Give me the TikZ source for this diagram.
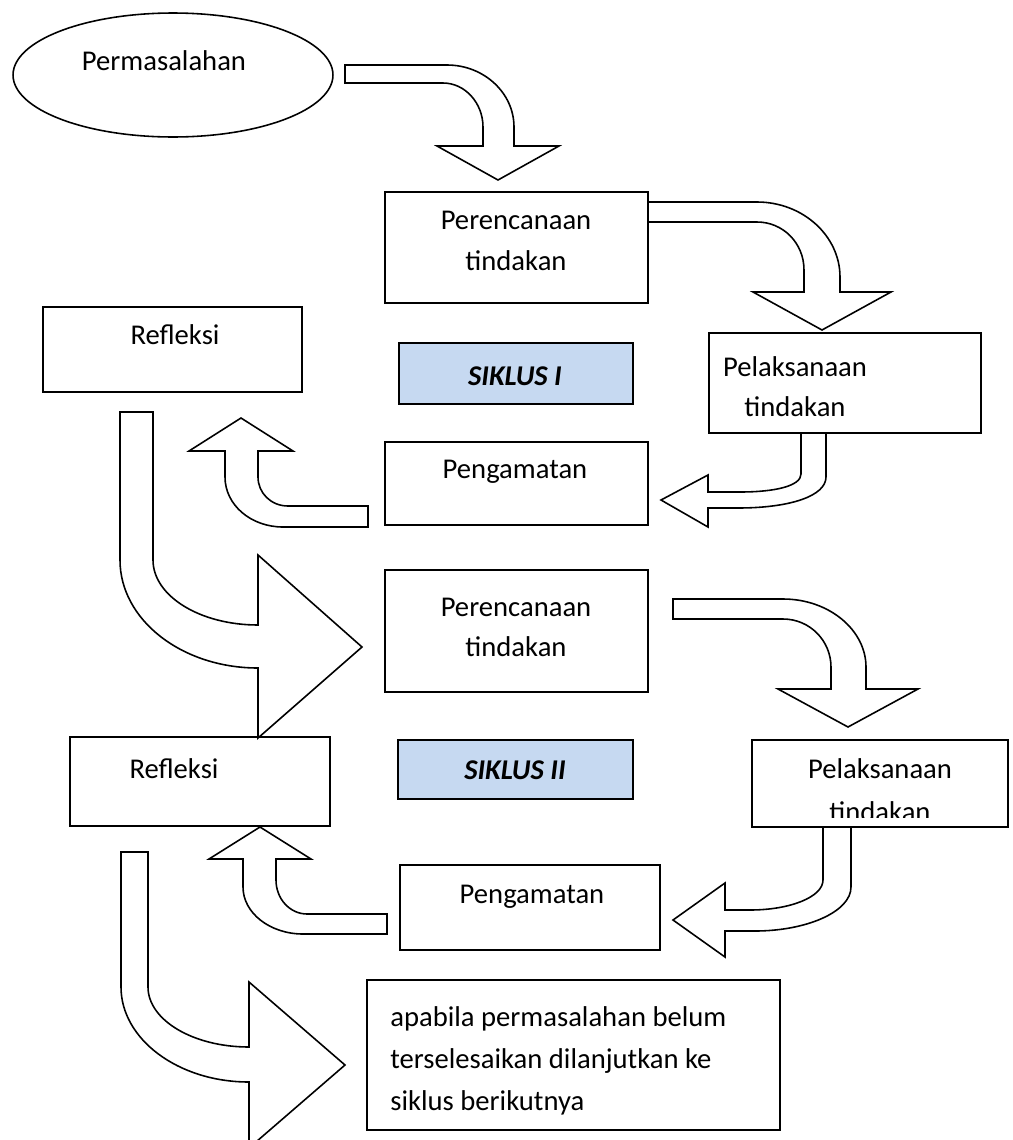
\documentclass[tikz,border=0pt]{standalone}
\usepackage{fontspec}
\setmainfont{Carlito}
\usetikzlibrary{fit,shapes.geometric}
\definecolor{siklus}{HTML}{C6D9F1}
\begin{document}
\begin{tikzpicture}[x=0.02cm,y=-0.02cm,
  box/.style={draw=black,line width=0.9pt,inner sep=0pt,fill=white},
  sbox/.style={box,fill=siklus},
  txt/.style={font=\fontsize{16.3}{20}\selectfont,inner sep=0pt,anchor=base},
  btxt/.style={txt,font=\fontsize{16.3}{20}\selectfont\bfseries\itshape},
  blockarrow/.style={draw=black,line width=0.9pt,fill=white,line join=miter}]
\useasboundingbox (0,0) rectangle (1012,1140);
\clip (0,0) rectangle (1012,1140);

% ---------- boxes ----------
\node[draw=black,line width=0.9pt,ellipse,inner sep=0pt,minimum width=6.4cm,minimum height=2.48cm] (perm) at (173,75) {};
\node[txt] (tperm) at (164,70) {Permasalahan};

\node[box,fit={(385,192)(648,303)}] (ren1) {};
\node[txt] (tren1a) at (516,229) {Perencanaan};
\node[txt] (tren1b) at (516,270) {tindakan};

\node[box,fit={(43,307)(302,392)}] (ref1) {};
\node[txt] (tref1) at (175,344) {Refleksi};

\node[sbox,fit={(399,343)(633,404)}] (sik1) {};
\node[btxt] (tsik1) at (515,385) {SIKLUS I};

\node[box,fit={(709,333)(981,433)}] (pel1) {};
\node[txt] (tpel1a) at (795,376) {Pelaksanaan};
\node[txt] (tpel1b) at (795,416) {tindakan};

\node[box,fit={(385,442)(648,525)}] (pen1) {};
\node[txt] (tpen1) at (515,478) {Pengamatan};

\node[box,fit={(385,570)(648,692)}] (ren2) {};
\node[txt] (tren2a) at (516,616) {Perencanaan};
\node[txt] (tren2b) at (516,656) {tindakan};

\node[sbox,fit={(398,740)(633,799)}] (sik2) {};
\node[btxt] (tsik2) at (515,779) {SIKLUS II};

\node[box,fit={(70,737)(330,826)}] (ref2) {};
\node[txt] (tref2) at (174,778) {Refleksi};

\node[box,fit={(752,740)(1008,827)}] (pel2) {};
\begin{scope}
\clip (752,740) rectangle (1008,817);
\node[txt] (tpel2a) at (880,778) {Pelaksanaan};
\node[txt] (tpel2b) at (880,821) {tindakan};
\end{scope}

\node[box,fit={(400,865)(660,950)}] (pen2) {};
\node[txt] (tpen2) at (532,903) {Pengamatan};

\node[box,fit={(367,980)(780,1130)}] (fin) {};
\node[txt,anchor=base west] (tfina) at (390,1026) {apabila permasalahan belum};
\node[txt,anchor=base west] (tfinb) at (390,1068) {terselesaikan dilanjutkan ke};
\node[txt,anchor=base west] (tfinc) at (390,1110) {siklus berikutnya};

% ---------- block arrows ----------
% 1: Permasalahan -> Perencanaan
\draw[blockarrow] (345,65) -- (447,65) .. controls (484,65) and (514,93) .. (514,127)
  -- (514,146) -- (559,146) -- (498,180) -- (437,146) -- (483,146) -- (483,127)
  .. controls (483,103) and (465,83) .. (443,83) -- (345,83) -- cycle;
% 2: Perencanaan -> Pelaksanaan
\draw[blockarrow] (648,202) -- (757,202) .. controls (803,202) and (840,236) .. (840,277)
  -- (840,292) -- (891,292) -- (822,330) -- (753,292) -- (804,292) -- (804,270)
  .. controls (804,243) and (783,222) .. (757,222) -- (648,222) -- cycle;
% 3: Pelaksanaan -> Pengamatan
\draw[blockarrow] (826,433) -- (826,477) .. controls (826,496) and (790,508) .. (738,508)
  -- (708,508) -- (708,527) -- (661,500) -- (708,475) -- (708,492) -- (740,492)
  .. controls (775,492) and (801,486) .. (801,474) -- (801,433) -- cycle;
% 4: Pengamatan -> Refleksi
\draw[blockarrow] (368,506) -- (288,506) .. controls (271,506) and (258,493) .. (258,477)
  -- (258,451) -- (293,451) -- (241,418) -- (189,451) -- (225,451) -- (225,477)
  .. controls (225,505) and (251,527) .. (283,527) -- (368,527) -- cycle;
% 5: Refleksi -> Perencanaan (siklus II)
\draw[blockarrow] (120,412) -- (153,412) -- (153,560) .. controls (153,596) and (200,625) .. (258,625)
  -- (258,555) -- (362,647) -- (258,738) -- (258,668)
  .. controls (182,668) and (120,620) .. (120,560) -- cycle;
% 6: Perencanaan -> Pelaksanaan (siklus II)
\draw[blockarrow] (673,599) -- (783,599) .. controls (829,599) and (866,630) .. (866,667)
  -- (866,689) -- (918,689) -- (848,727) -- (778,689) -- (831,689) -- (831,667)
  .. controls (831,641) and (810,619) .. (783,619) -- (673,619) -- cycle;
% 7: Pelaksanaan -> Pengamatan (siklus II)
\draw[blockarrow] (851,827) -- (851,887) .. controls (851,912) and (806,931) .. (755,931)
  -- (725,931) -- (725,957) -- (673,920) -- (725,883) -- (725,910) -- (750,910)
  .. controls (790,910) and (823,897) .. (823,880) -- (823,827) -- cycle;
% 8: Pengamatan -> Refleksi (siklus II)
\draw[blockarrow] (387,914) -- (307,914) .. controls (290,914) and (276,899) .. (276,880)
  -- (276,859) -- (311,859) -- (260,827) -- (209,859) -- (243,859) -- (243,887)
  .. controls (243,913) and (270,934) .. (303,934) -- (387,934) -- cycle;
% 9: Refleksi -> kesimpulan
\draw[blockarrow] (121,852) -- (148,852) -- (148,987) .. controls (148,1020) and (193,1047) .. (249,1047)
  -- (249,982) -- (345,1065) -- (249,1148) -- (249,1082)
  .. controls (178,1082) and (121,1039) .. (121,987) -- cycle;
\end{tikzpicture}
\end{document}
